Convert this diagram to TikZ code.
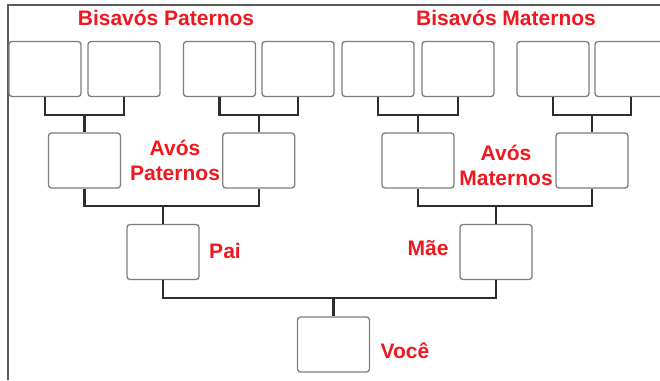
\documentclass[tikz,border=0pt]{standalone}
\usepackage{fontspec}
\setmainfont{Liberation Sans}
\definecolor{lbl}{RGB}{240,24,32}
\definecolor{boxline}{RGB}{125,125,125}
\definecolor{conline}{RGB}{45,45,45}
\definecolor{frameline}{RGB}{90,90,90}
\begin{document}
\begin{tikzpicture}[x=1pt,y=-1pt,
  pbox/.style={draw=boxline,line width=1.3pt,rounded corners=3pt,fill=white,
    minimum width=72pt,minimum height=55pt,inner sep=0pt},
  conn/.style={draw=conline,line width=2.2pt},
  lab/.style={text=lbl,font=\fontsize{21}{25}\selectfont\bfseries,inner sep=0pt,align=center}]
\useasboundingbox (0,0) rectangle (660,380);
\clip (0,0) rectangle (660,380);
\fill[white] (0,0) rectangle (660,380);
\draw[frameline,line width=1.2pt] (8,380) -- (8,5) -- (662,5);
% great-grandparents
\node[pbox] (b1) at (45,69) {};
\node[pbox] (b2) at (124,69) {};
\node[pbox] (b3) at (219.5,69) {};
\node[pbox] (b4) at (298,69) {};
\node[pbox] (b5) at (378,69) {};
\node[pbox] (b6) at (458,69) {};
\node[pbox] (b7) at (553,69) {};
\node[pbox] (b8) at (631,69) {};
% grandparents
\node[pbox] (a1) at (84.5,160.5) {};
\node[pbox] (a2) at (258.75,160.5) {};
\node[pbox] (a3) at (418,160.5) {};
\node[pbox] (a4) at (592,160.5) {};
% parents
\node[pbox] (pai) at (163,252) {};
\node[pbox] (mae) at (496,252) {};
% you
\node[pbox] (voce) at (333.5,344.5) {};
% levels
\coordinate (lv1) at (0,115);
\coordinate (lv2) at (0,206);
\coordinate (lv3) at (0,298);
% connectors
\foreach \l/\r/\p in {b1/b2/a1,b3/b4/a2,b5/b6/a3,b7/b8/a4}{
  \draw[conn] (\l.south) -- (\l.south |- lv1) -- (\r.south |- lv1) -- (\r.south);
  \draw[conn] (\p.north) -- (\p.north |- lv1);
}
\draw[conn] (a1.south) -- (a1.south |- lv2) -- (a2.south |- lv2) -- (a2.south);
\draw[conn] (pai.north) -- (pai.north |- lv2);
\draw[conn] (a3.south) -- (a3.south |- lv2) -- (a4.south |- lv2) -- (a4.south);
\draw[conn] (mae.north) -- (mae.north |- lv2);
\draw[conn] (pai.south) -- (pai.south |- lv3) -- (mae.south |- lv3) -- (mae.south);
\draw[conn] (voce.north) -- (voce.north |- lv3);
% labels
\node[lab] (t1) at (166,18) {Bisavós Paternos};
\node[lab] (t2) at (506,18) {Bisavós Maternos};
\node[lab] (t3) at (175,160.5) {Avós\\Paternos};
\node[lab] (t4) at (506,165) {Avós\\Maternos};
\node[lab] (t5) at (225,251) {Pai};
\node[lab] (t6) at (428,248) {Mãe};
\node[lab] (t7) at (405,351) {Você};
\end{tikzpicture}
\end{document}
